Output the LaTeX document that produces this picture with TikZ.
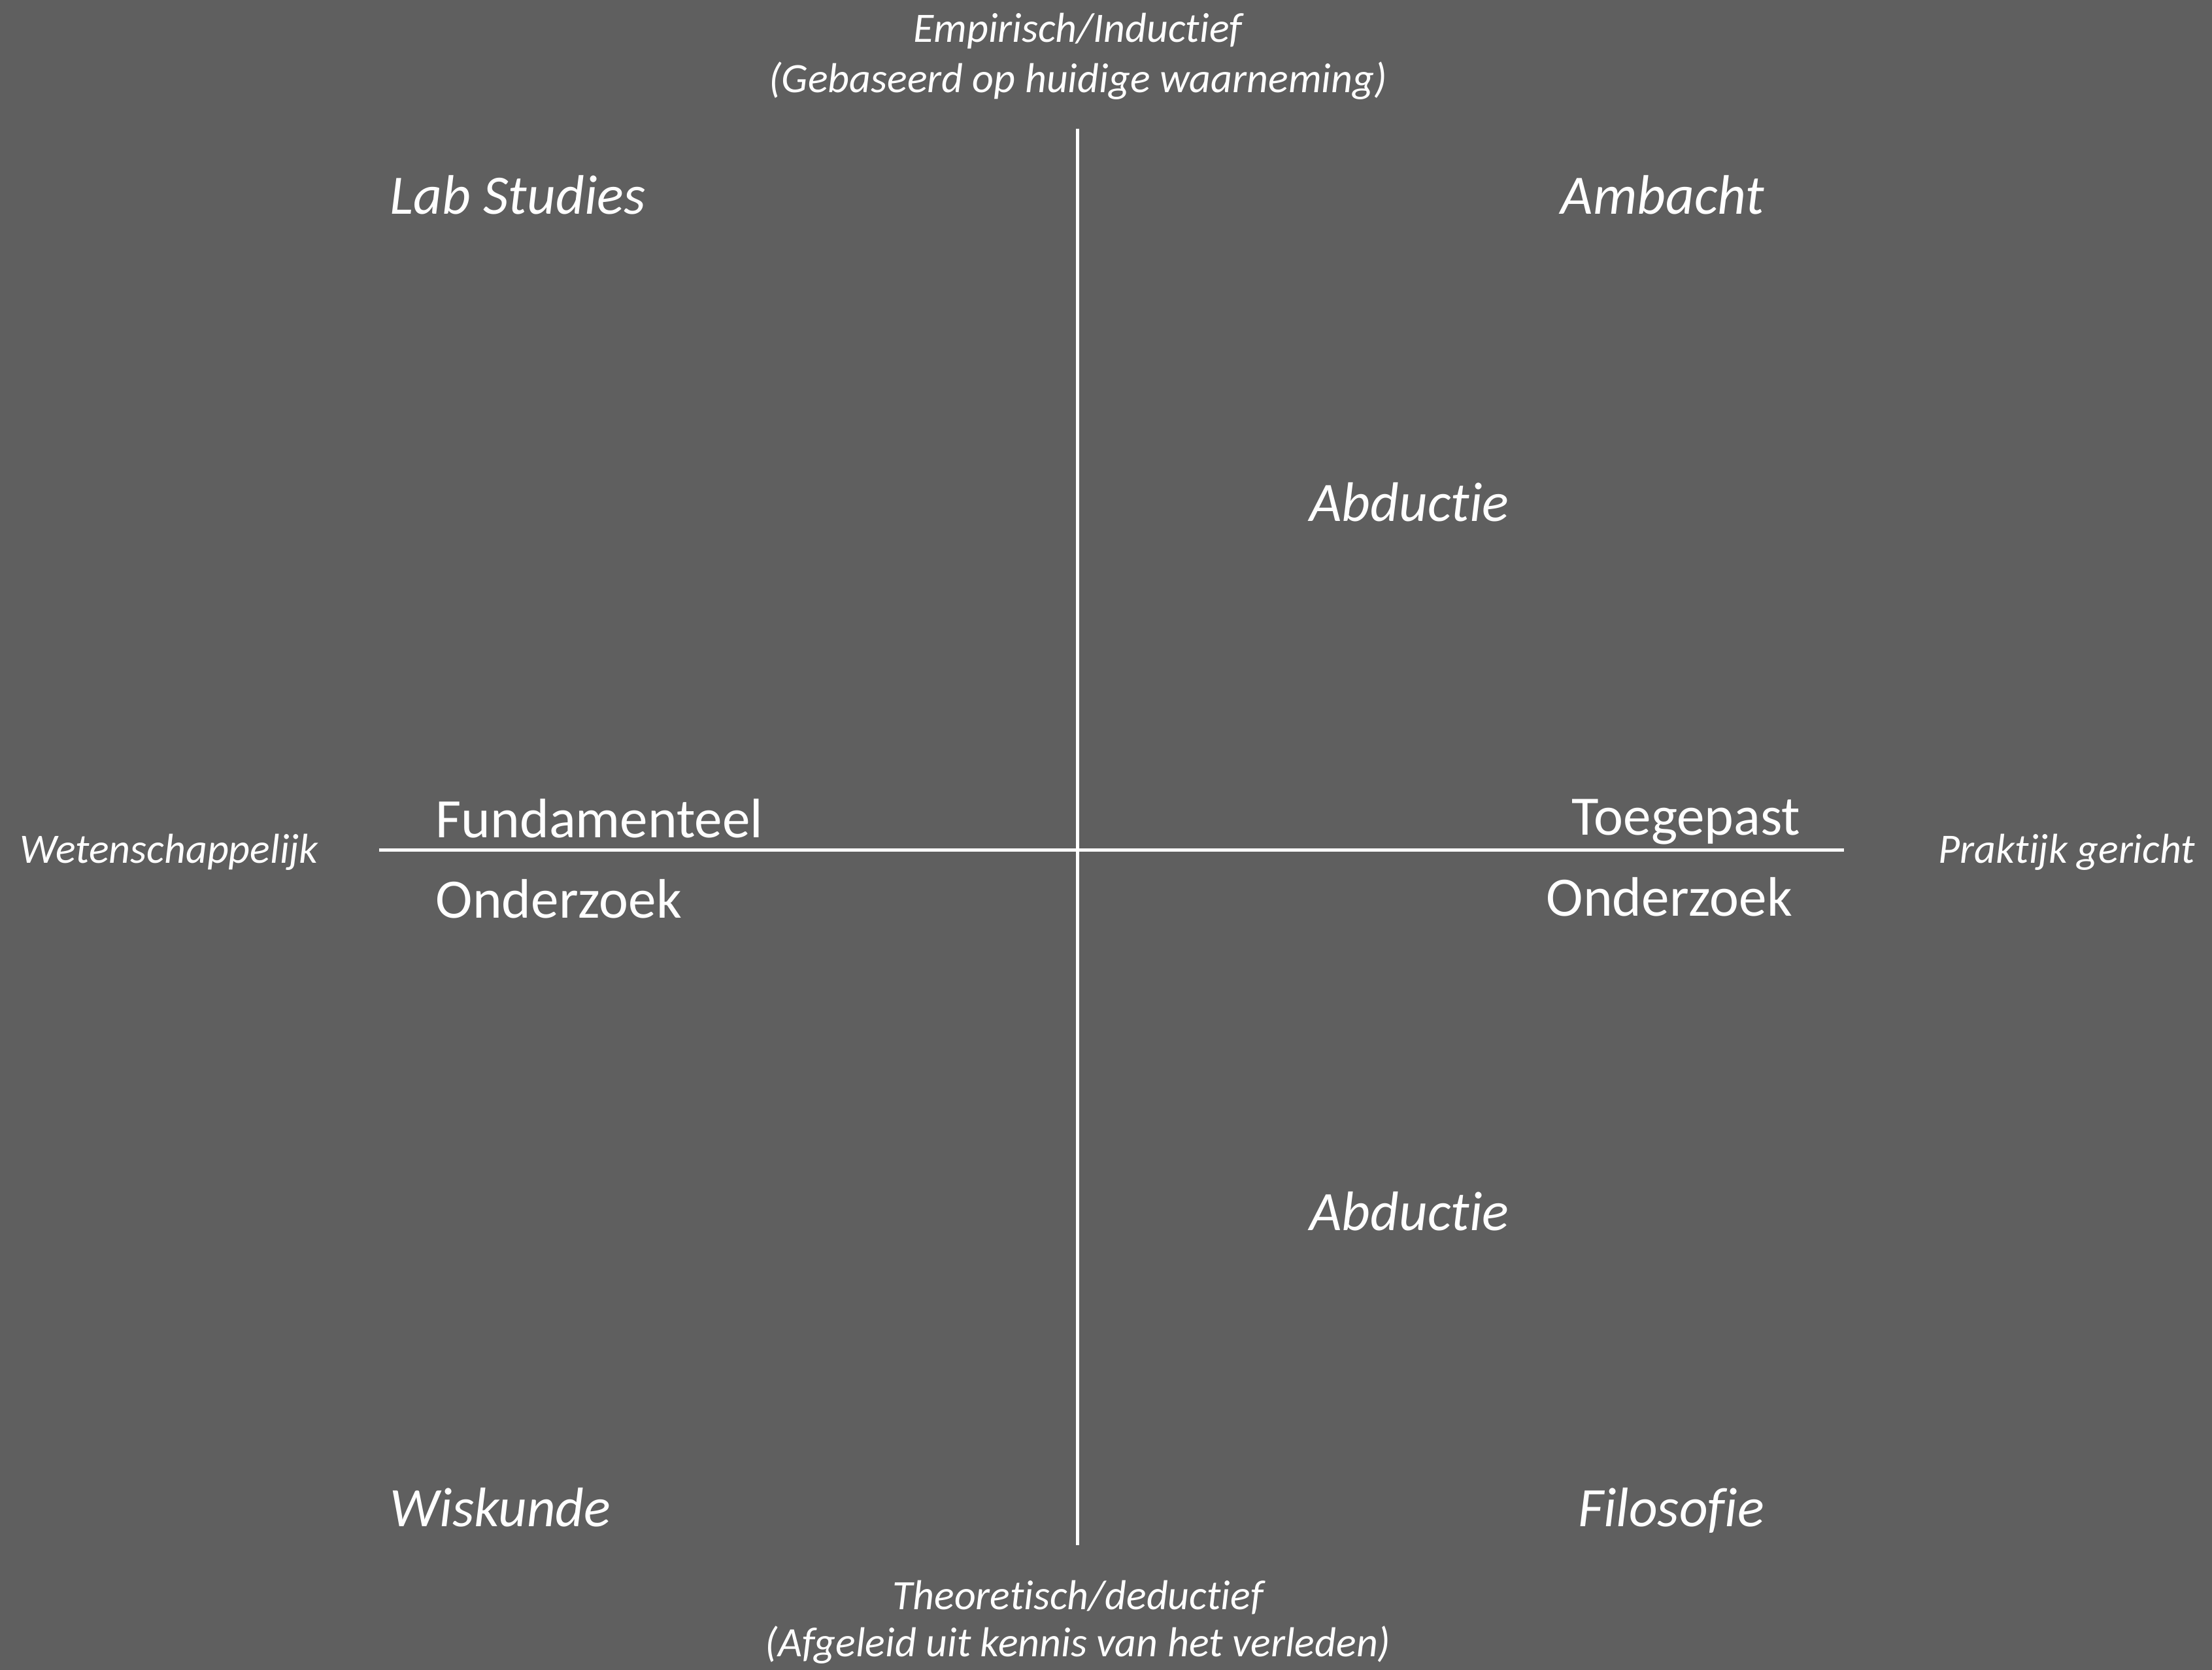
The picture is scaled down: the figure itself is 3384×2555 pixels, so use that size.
\documentclass[tikz,border=0pt]{standalone}
\usepackage{fontspec}
\setmainfont[RawFeature={-liga;-clig;-calt;-dlig}]{Carlito}
\definecolor{bg}{HTML}{5F5F5F}
\begin{document}
\begin{tikzpicture}[x=0.25pt,y=-0.25pt,
  axis/.style={draw=white,line width=1.25pt},
  big/.style={text=white,font=\fontsize{21.3}{25}\selectfont,inner sep=0pt},
  bigit/.style={text=white,font=\fontsize{21.3}{25}\selectfont\itshape,inner sep=0pt},
  small/.style={text=white,font=\fontsize{16.0}{19}\selectfont\itshape,inner sep=0pt}]
\fill[bg] (0,0) rectangle (3384,2555);
\useasboundingbox (0,0) rectangle (3384,2555);
\coordinate (vt) at (1648,197);
\coordinate (vb) at (1648,2364);
\coordinate (hl) at (580,1301);
\coordinate (hr) at (2821,1301);
\draw[axis] (vt) -- (vb);
\draw[axis] (hl) -- (hr);
\node[small,anchor=base] (emp) at (1649,65) {Empirisch/Inductief};
\node[small,anchor=base] (geb) at (1649,142) {(Gebaseerd op huidige waarneming)};
\node[small,anchor=base] (the) at (1649,2462) {Theoretisch/deductief};
\node[small,anchor=base] (afg) at (1649,2534) {(Afgeleid uit kennis van het verleden)};
\node[small,anchor=base west] (wet) at (30,1321) {Wetenschappelijk};
\node[small,anchor=base west] (pra) at (2965,1321) {Praktijk gericht};
\node[bigit,anchor=base west] (lab) at (596,328) {Lab Studies};
\node[bigit,anchor=base east] (amb) at (2700,328) {Ambacht};
\node[bigit,anchor=base] (ab1) at (2156,798) {Abductie};
\node[bigit,anchor=base] (ab2) at (2156,1882) {Abductie};
\node[bigit,anchor=base west] (wis) at (596,2335) {Wiskunde};
\node[bigit,anchor=base east] (fil) at (2700,2335) {Filosofie};
\node[big,anchor=base west] (fun) at (666,1281) {Fundamenteel};
\node[big,anchor=base west] (ond1) at (666,1405) {Onderzoek};
\node[big,anchor=base west] (toe) at (2404,1278) {Toegepast};
\node[big,anchor=base west] (ond2) at (2365,1401) {Onderzoek};
\end{tikzpicture}
\end{document}
